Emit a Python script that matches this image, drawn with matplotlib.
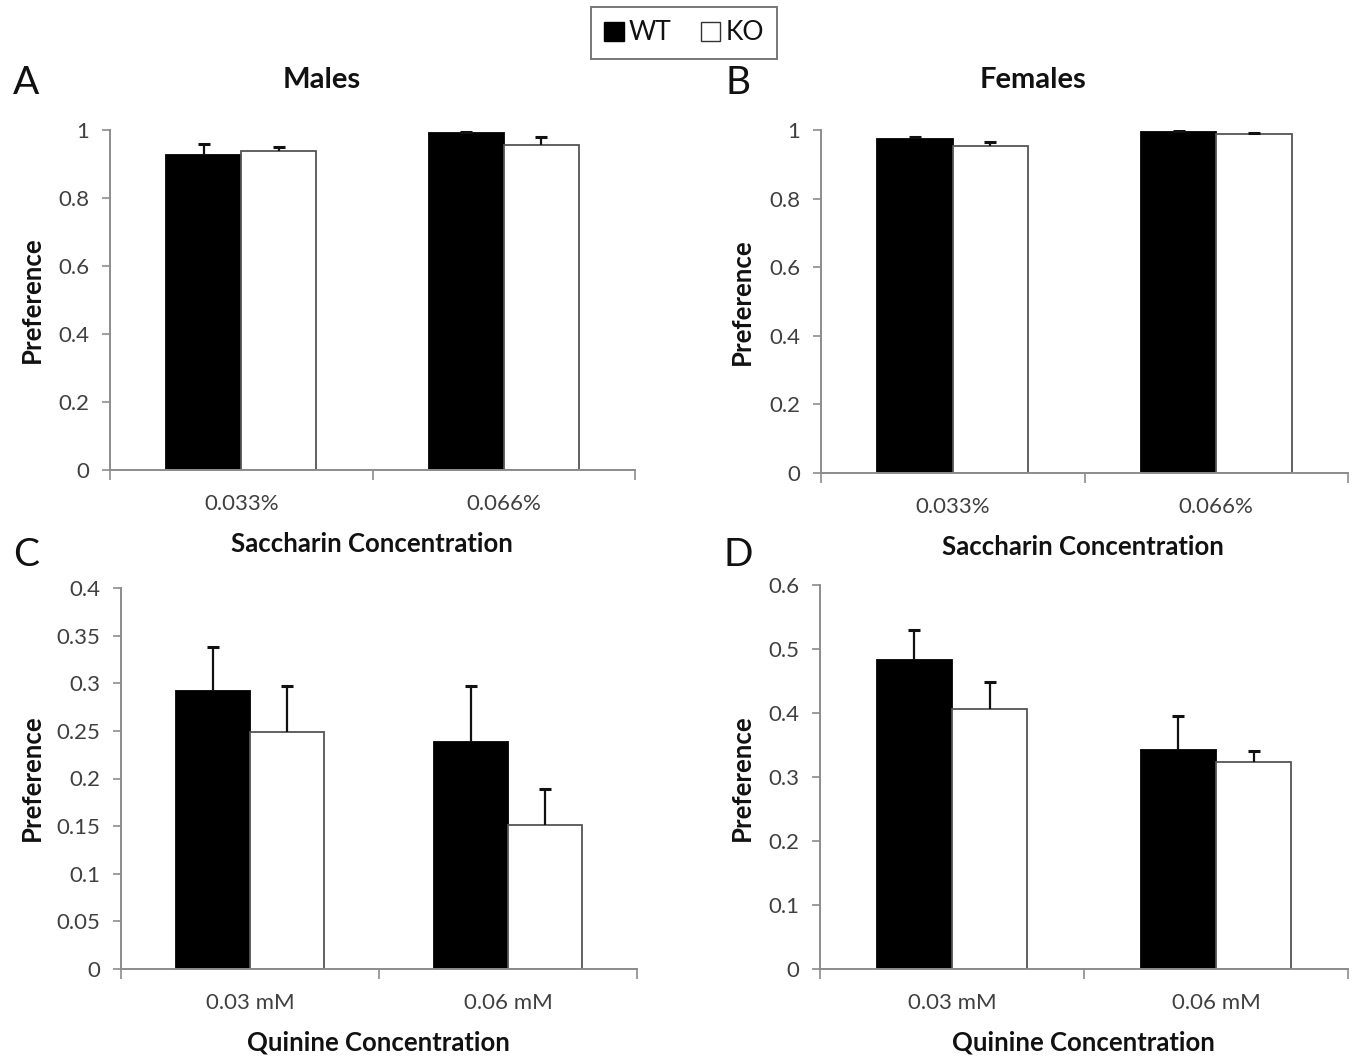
import numpy as np
import matplotlib

matplotlib.use("Agg")
import matplotlib.pyplot as plt
from matplotlib.patches import Rectangle

plt.rcParams["font.family"] = ["Lato", "DejaVu Sans"]

W, H = 1358, 1059

# saccharin preference
sac_labels = ["0.033%", "0.066%"]
males_sac_wt = [0.926, 0.990]
males_sac_wt_err = [0.033, 0.003]
males_sac_ko = [0.939, 0.955]
males_sac_ko_err = [0.012, 0.024]
females_sac_wt = [0.973, 0.994]
females_sac_wt_err = [0.007, 0.002]
females_sac_ko = [0.953, 0.988]
females_sac_ko_err = [0.013, 0.002]

# quinine preference
qui_labels = ["0.03 mM", "0.06 mM"]
males_qui_wt = [0.292, 0.238]
males_qui_wt_err = [0.046, 0.059]
males_qui_ko = [0.249, 0.151]
males_qui_ko_err = [0.048, 0.038]
females_qui_wt = [0.483, 0.342]
females_qui_wt_err = [0.047, 0.054]
females_qui_ko = [0.406, 0.323]
females_qui_ko_err = [0.043, 0.018]

AXIS_GREY = "#8c8c8c"
TICK_TEXT = "#404040"
TEXT = "#111111"


def px_axes(fig, left, right, top, bottom):
    return fig.add_axes([left / W, 1 - bottom / H, (right - left) / W, (bottom - top) / H])


def bar_panel(ax, labels, wt, wt_err, ko, ko_err, ymax, ystep):
    n = len(labels)
    x = np.arange(n) + 0.5
    bw = 1 / 3.5
    for vals, errs, off, face, edge in [
        (wt, wt_err, -bw / 2, "black", "black"),
        (ko, ko_err, bw / 2, "white", "#555555"),
    ]:
        vals = np.asarray(vals)
        errs = np.asarray(errs)
        ax.bar(x + off, vals, bw, color=face, edgecolor=edge, linewidth=1.3, zorder=2)
        # upper whisker only, cap on top
        ax.errorbar(x + off, vals, yerr=[np.zeros(n), errs], fmt="none",
                    ecolor="#111111", elinewidth=1.6, capsize=0, zorder=3)
        ax.plot(x + off, vals + errs, ls="none", marker="_", markersize=8,
                markeredgewidth=2.2, color="#111111", zorder=3)
    ax.set_xlim(0, n)
    ax.set_ylim(0, ymax)
    ticks = np.arange(0, ymax + ystep / 2, ystep)
    ax.set_yticks(ticks)
    ax.set_yticklabels([f"{t:.2f}".rstrip("0").rstrip(".") for t in ticks],
                       fontsize=16, color=TICK_TEXT)
    ax.set_xticks(np.arange(n + 1))
    ax.set_xticklabels([])
    ax.set_xticks(x, minor=True)
    ax.set_xticklabels(labels, minor=True, fontsize=16, color=TICK_TEXT)
    ax.tick_params(axis="x", which="minor", length=0, pad=17)
    ax.tick_params(axis="x", which="major", length=7, color=AXIS_GREY, width=1.2)
    ax.tick_params(axis="y", length=6, color=AXIS_GREY, width=1.2, pad=9)
    for side in ["top", "right"]:
        ax.spines[side].set_visible(False)
    for side in ["left", "bottom"]:
        ax.spines[side].set_color(AXIS_GREY)
        ax.spines[side].set_linewidth(1.4)
    ax.patch.set_alpha(0)


fig = plt.figure(figsize=(W / 100, H / 100), dpi=100)

ax_a = px_axes(fig, 110, 635, 130, 470)
bar_panel(ax_a, sac_labels, males_sac_wt, males_sac_wt_err, males_sac_ko, males_sac_ko_err,
          1.0, 0.2)
ax_b = px_axes(fig, 821, 1348, 130, 473)
bar_panel(ax_b, sac_labels, females_sac_wt, females_sac_wt_err, females_sac_ko,
          females_sac_ko_err, 1.0, 0.2)
ax_c = px_axes(fig, 121, 637, 588, 969)
bar_panel(ax_c, qui_labels, males_qui_wt, males_qui_wt_err, males_qui_ko, males_qui_ko_err,
          0.4, 0.05)
ax_d = px_axes(fig, 820, 1348, 585, 969)
bar_panel(ax_d, qui_labels, females_qui_wt, females_qui_wt_err, females_qui_ko,
          females_qui_ko_err, 0.6, 0.1)


def ftext(x, y, s, **kw):
    fig.text(x / W, 1 - y / H, s, color=TEXT, **kw)


# panel letters and titles
for letter, (x, y) in zip("ABCD", [(26, 83), (738, 83), (26, 555), (738, 555)]):
    ftext(x, y, letter, fontsize=28, ha="center", va="center")
ftext(322, 80, "Males", fontsize=21, fontweight="bold", ha="center", va="center")
ftext(1033, 80, "Females", fontsize=21, fontweight="bold", ha="center", va="center")

# axis titles
for x, y in [(32, 300), (742, 302), (32, 778), (742, 778)]:
    ftext(x, y, "Preference", fontsize=18.5, fontweight="bold", rotation=90,
          ha="center", va="center")
ftext(372, 544, "Saccharin Concentration", fontsize=18.5, fontweight="bold",
      ha="center", va="center")
ftext(1083, 547, "Saccharin Concentration", fontsize=18.5, fontweight="bold",
      ha="center", va="center")
ftext(378, 1043, "Quinine Concentration", fontsize=18.5, fontweight="bold",
      ha="center", va="center")
ftext(1083, 1043, "Quinine Concentration", fontsize=18.5, fontweight="bold",
      ha="center", va="center")

# legend box
handles = [Rectangle((0, 0), 1, 1, facecolor="black", edgecolor="black"),
           Rectangle((0, 0), 1, 1, facecolor="white", edgecolor="#333333")]
leg = fig.legend(handles, ["WT", "KO"], loc="center", bbox_to_anchor=(684 / W, 1 - 33 / H),
                 ncol=2, frameon=True, fancybox=False, fontsize=19, handlelength=0.75,
                 handleheight=0.75, handletextpad=0.2, columnspacing=1.1, borderpad=0.5)
leg.get_frame().set_edgecolor("#555555")
leg.get_frame().set_linewidth(1.4)
for t in leg.get_texts():
    t.set_color(TEXT)

fig.savefig("out.png", dpi=100)
